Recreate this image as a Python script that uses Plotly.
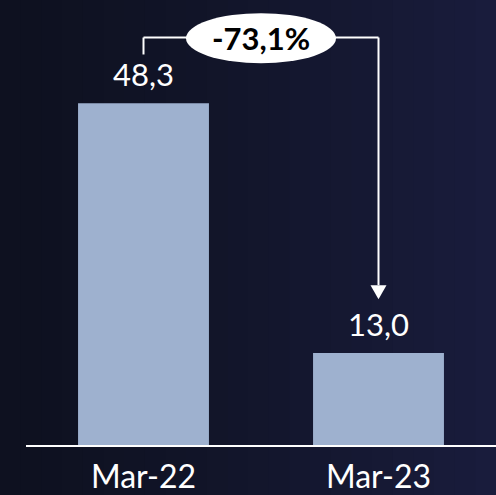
import plotly.graph_objects as go

categories = ["Mar-22", "Mar-23"]
values = [48.3, 13.0]
value_labels = ["48,3", "13,0"]
change_pct = (values[1] - values[0]) / values[0] * 100
change_label = f"{change_pct:.1f}%".replace(".", ",")

BAR_COLOR = "#9eb1cf"
FONT = "Lato"

fig = go.Figure()
fig.add_trace(go.Bar(
    x=categories, y=values, marker=dict(color=BAR_COLOR, line=dict(width=0)),
    width=0.557, hoverinfo="skip",
))

# background gradient strips (paper coords)
left = (14, 17, 32)
right = (25, 28, 60)
n = 24
x_start, x_end = -26 / 470, 1.0
for i in range(n):
    t = i / (n - 1)
    c = tuple(int(round(left[k] + (right[k] - left[k]) * t ** 1.3)) for k in range(3))
    fig.add_shape(type="rect", xref="paper", yref="paper",
                  x0=x_start + (x_end - x_start) * i / n,
                  x1=x_start + (x_end - x_start) * (i + 1) / n + 0.002,
                  y0=-0.2, y1=1.0, fillcolor=f"rgb{c}", line=dict(width=0), layer="below")

# value labels
for c, v, lab in zip(categories, values, value_labels):
    fig.add_annotation(x=c, y=v, text=lab, showarrow=False, yanchor="bottom", yshift=8,
                       font=dict(family=FONT, size=31, color="white"))

# connector
y_top = max(values) + 9.3
fig.add_shape(type="line", x0=0, x1=0, y0=values[0] + 6.9, y1=y_top,
              line=dict(color="white", width=2))
fig.add_shape(type="line", x0=0, x1=1, y0=y_top, y1=y_top,
              line=dict(color="white", width=2))
fig.add_shape(type="line", x0=1, x1=1, y0=y_top, y1=values[1] + 9.6,
              line=dict(color="white", width=2))
# arrow head
fig.add_shape(type="path", xsizemode="pixel", ysizemode="pixel", xanchor=1,
              yanchor=values[1] + 7.6, path="M -8 14 L 8 14 L 0 0 Z",
              fillcolor="white", line=dict(width=0))
# ellipse
fig.add_shape(type="circle", xsizemode="pixel", ysizemode="pixel", xanchor=0.5,
              yanchor=y_top - 0.1, x0=-75, x1=75, y0=-25, y1=25,
              fillcolor="white", line=dict(width=0))
fig.add_annotation(x=0.5, y=y_top - 0.1, text=f"<b>{change_label}</b>", showarrow=False,
                   font=dict(family=FONT, size=31, color="black"))

fig.update_layout(
    width=496, height=495,
    margin=dict(l=26, r=0, t=0, b=47),
    paper_bgcolor="#12152a", plot_bgcolor="rgba(0,0,0,0)",
    showlegend=False,
    xaxis=dict(range=[-0.5, 1.5], showline=True, linecolor="white", linewidth=2,
               showgrid=False, zeroline=False, ticks="outside", ticklen=3,
               tickcolor="rgba(0,0,0,0)", tickfont=dict(family=FONT, size=32, color="white")),
    yaxis=dict(range=[0, 62.9], visible=False, showgrid=False),
)

fig.write_html("out.html", config={"displayModeBar": False},
               post_script="document.body.style.margin='0';document.body.style.overflow='hidden';")
